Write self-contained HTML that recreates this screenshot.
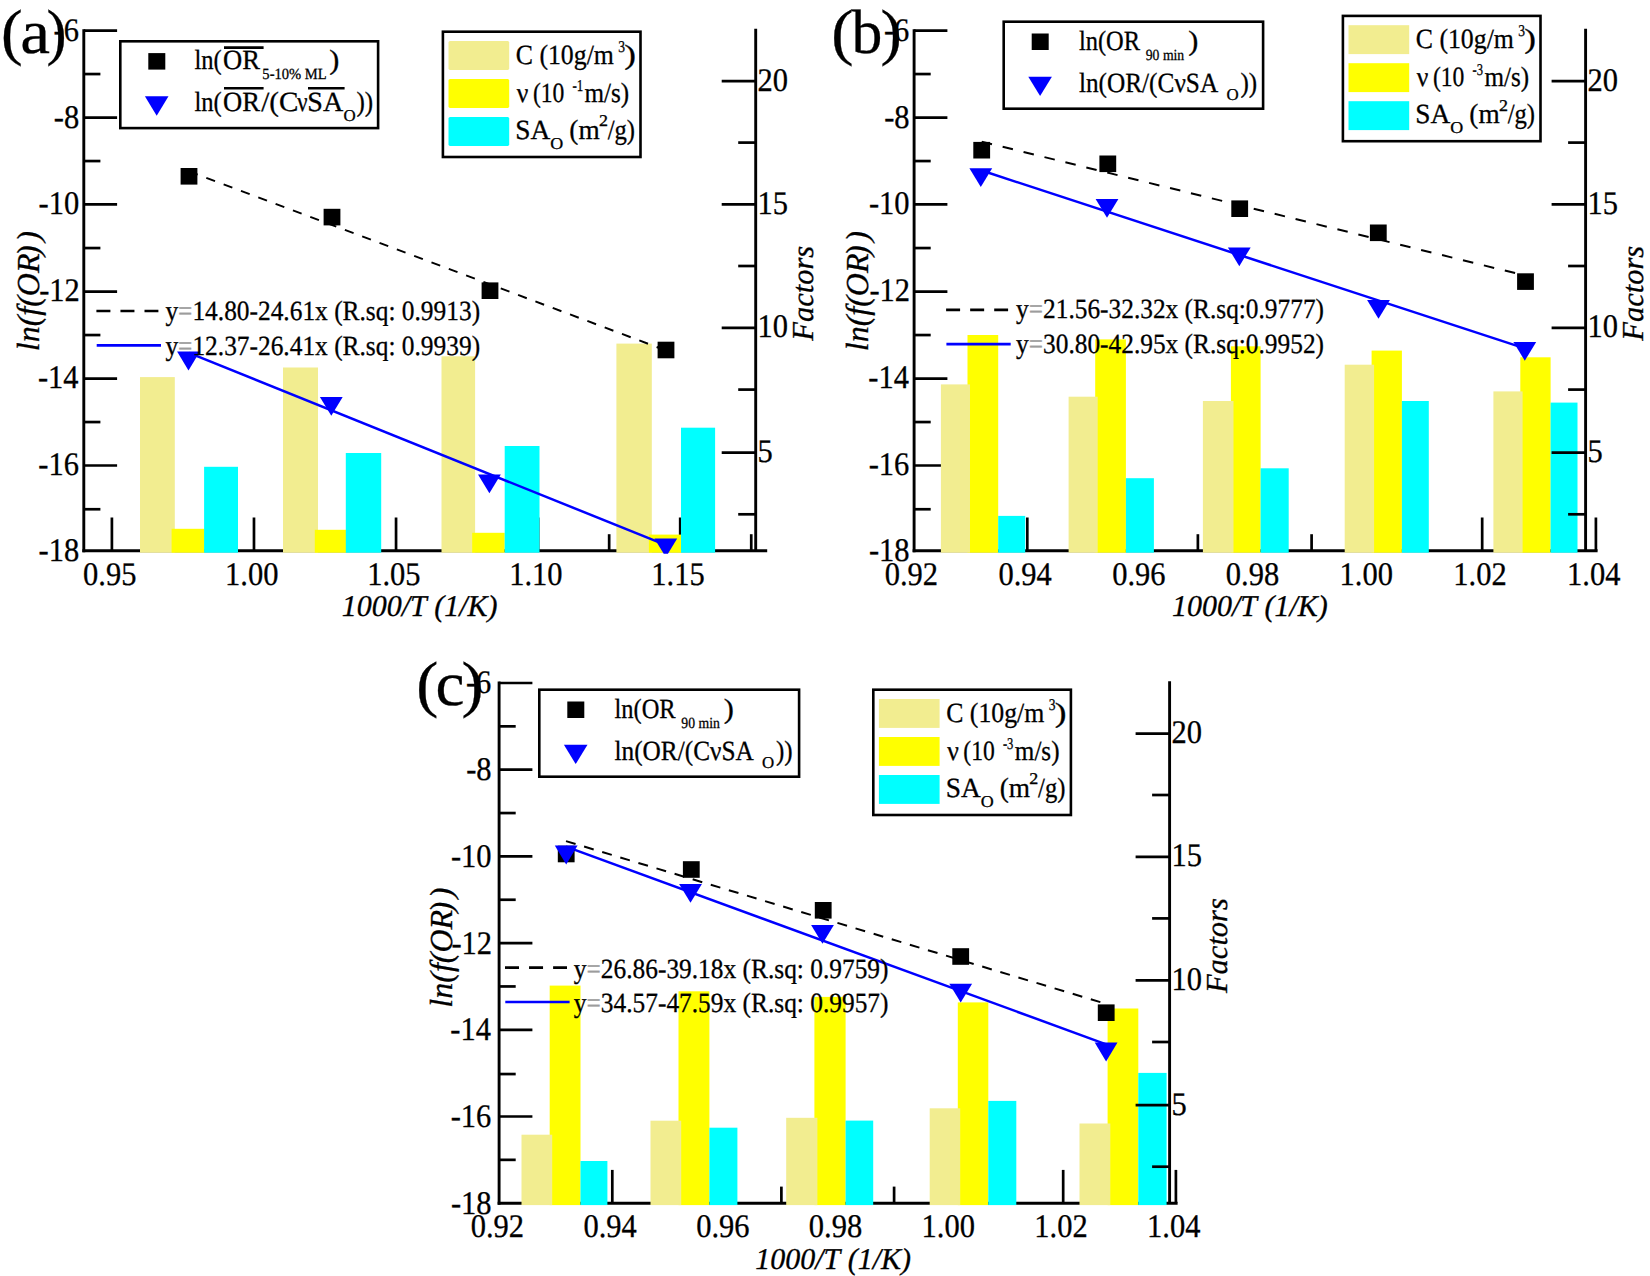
<!DOCTYPE html>
<html lang="en">
<head>
<meta charset="utf-8">
<title>Arrhenius plots</title>
<style>
html,body{margin:0;padding:0;background:#fff;}
body{width:1650px;height:1276px;overflow:hidden;font-family:"Liberation Serif", "Times New Roman", serif;}
svg{display:block;}
text{font-kerning:none;white-space:pre;stroke-width:0.3px;}
</style>
</head>
<body>
<svg width="1650" height="1276" viewBox="0 0 1650 1276" font-family="'Liberation Serif', 'Times New Roman', serif" text-rendering="geometricPrecision">
<rect width="1650" height="1276" fill="#fff"/>
<g>
<line x1="83.8" y1="29.15" x2="83.8" y2="552.25" stroke="#000" stroke-width="2.9"/>
<line x1="82.35" y1="550.8" x2="767.2" y2="550.8" stroke="#000" stroke-width="2.9"/>
<line x1="755.7" y1="28.8" x2="755.7" y2="550.8" stroke="#000" stroke-width="2.9"/>
<line x1="83.8" y1="509.25" x2="100.4" y2="509.25" stroke="#000" stroke-width="2.7"/>
<line x1="83.8" y1="465.5" x2="117.1" y2="465.5" stroke="#000" stroke-width="2.7"/>
<line x1="83.8" y1="422.05" x2="100.4" y2="422.05" stroke="#000" stroke-width="2.7"/>
<line x1="83.8" y1="378.6" x2="117.1" y2="378.6" stroke="#000" stroke-width="2.7"/>
<line x1="83.8" y1="335.05" x2="100.4" y2="335.05" stroke="#000" stroke-width="2.7"/>
<line x1="83.8" y1="291.6" x2="117.1" y2="291.6" stroke="#000" stroke-width="2.7"/>
<line x1="83.8" y1="248.05" x2="100.4" y2="248.05" stroke="#000" stroke-width="2.7"/>
<line x1="83.8" y1="204.45" x2="117.1" y2="204.45" stroke="#000" stroke-width="2.7"/>
<line x1="83.8" y1="161.05" x2="100.4" y2="161.05" stroke="#000" stroke-width="2.7"/>
<line x1="83.8" y1="117.6" x2="117.1" y2="117.6" stroke="#000" stroke-width="2.7"/>
<line x1="83.8" y1="74.05" x2="100.4" y2="74.05" stroke="#000" stroke-width="2.7"/>
<line x1="83.8" y1="30.6" x2="117.1" y2="30.6" stroke="#000" stroke-width="2.7"/>
<line x1="111.9" y1="517.5" x2="111.9" y2="550.8" stroke="#000" stroke-width="2.7"/>
<line x1="253.98" y1="517.5" x2="253.98" y2="550.8" stroke="#000" stroke-width="2.7"/>
<line x1="396.05" y1="517.5" x2="396.05" y2="550.8" stroke="#000" stroke-width="2.7"/>
<line x1="538.13" y1="517.5" x2="538.13" y2="550.8" stroke="#000" stroke-width="2.7"/>
<line x1="680.2" y1="517.5" x2="680.2" y2="550.8" stroke="#000" stroke-width="2.7"/>
<line x1="182.94" y1="534.2" x2="182.94" y2="550.8" stroke="#000" stroke-width="2.7"/>
<line x1="325.01" y1="534.2" x2="325.01" y2="550.8" stroke="#000" stroke-width="2.7"/>
<line x1="467.09" y1="534.2" x2="467.09" y2="550.8" stroke="#000" stroke-width="2.7"/>
<line x1="609.16" y1="534.2" x2="609.16" y2="550.8" stroke="#000" stroke-width="2.7"/>
<line x1="751.24" y1="534.2" x2="751.24" y2="550.8" stroke="#000" stroke-width="2.7"/>
<rect x="140" y="377.1" width="34.8" height="175.6" fill="#f2ed90"/>
<rect x="171.6" y="528.8" width="33.1" height="23.9" fill="#ffff00"/>
<rect x="204.1" y="466.8" width="33.9" height="85.9" fill="#00ffff"/>
<rect x="283" y="367.5" width="35" height="185.2" fill="#f2ed90"/>
<rect x="314.8" y="529.8" width="31.4" height="22.9" fill="#ffff00"/>
<rect x="345.8" y="453" width="35.4" height="99.7" fill="#00ffff"/>
<rect x="441.5" y="356.3" width="33.6" height="196.4" fill="#f2ed90"/>
<rect x="472.2" y="532.8" width="32.5" height="19.9" fill="#ffff00"/>
<rect x="504.7" y="446" width="34.8" height="106.7" fill="#00ffff"/>
<rect x="616.4" y="343.6" width="35.4" height="209.1" fill="#f2ed90"/>
<rect x="648.9" y="534.6" width="32.5" height="18.1" fill="#ffff00"/>
<rect x="681" y="427.7" width="34.1" height="125" fill="#00ffff"/>
<line x1="721.7" y1="81.2" x2="755.7" y2="81.2" stroke="#000" stroke-width="2.7"/>
<line x1="721.7" y1="204.4" x2="755.7" y2="204.4" stroke="#000" stroke-width="2.7"/>
<line x1="721.7" y1="327.9" x2="755.7" y2="327.9" stroke="#000" stroke-width="2.7"/>
<line x1="721.7" y1="452.7" x2="755.7" y2="452.7" stroke="#000" stroke-width="2.7"/>
<line x1="738.2" y1="142.6" x2="755.7" y2="142.6" stroke="#000" stroke-width="2.7"/>
<line x1="738.2" y1="266" x2="755.7" y2="266" stroke="#000" stroke-width="2.7"/>
<line x1="738.2" y1="389.6" x2="755.7" y2="389.6" stroke="#000" stroke-width="2.7"/>
<line x1="738.2" y1="514.3" x2="755.7" y2="514.3" stroke="#000" stroke-width="2.7"/>
<line x1="189" y1="171.37" x2="666" y2="350.46" stroke="#000" stroke-width="2" stroke-dasharray="9.3 9.2"/>
<line x1="189" y1="352.95" x2="666" y2="545.14" stroke="#0000ff" stroke-width="2.5"/>
<rect x="180.6" y="168" width="16.8" height="16.6" fill="#000"/>
<rect x="323.6" y="208.8" width="16.8" height="16.6" fill="#000"/>
<rect x="481.6" y="282.4" width="16.8" height="16.6" fill="#000"/>
<rect x="657.6" y="341.7" width="16.8" height="16.6" fill="#000"/>
<polygon points="177.1,351.6 199.9,351.6 188.5,370.4" fill="#0000ff"/>
<polygon points="319.9,397 342.7,397 331.3,415.8" fill="#0000ff"/>
<polygon points="478,474.5 500.8,474.5 489.4,493.3" fill="#0000ff"/>
<polygon points="654.4,538.4 677.2,538.4 667.92,553.7 663.68,553.7" fill="#0000ff"/>
<text transform="translate(38.62 561.2) scale(0.9240 1)" font-size="33" fill="#000" stroke="#000">-18</text>
<text transform="translate(38.36 474.5) scale(0.9240 1)" font-size="33" fill="#000" stroke="#000">-16</text>
<text transform="translate(37.93 387.8) scale(0.9240 1)" font-size="33" fill="#000" stroke="#000">-14</text>
<text transform="translate(39.14 301.1) scale(0.9240 1)" font-size="33" fill="#000" stroke="#000">-12</text>
<text transform="translate(38.62 214.4) scale(0.9240 1)" font-size="33" fill="#000" stroke="#000">-10</text>
<text transform="translate(53.86 127.7) scale(0.9240 1)" font-size="33" fill="#000" stroke="#000">-8</text>
<text transform="translate(53.61 41) scale(0.9240 1)" font-size="33" fill="#000" stroke="#000">-6</text>
<text transform="translate(757.6 90.6) scale(0.9240 1)" font-size="33" fill="#000" stroke="#000">20</text>
<text transform="translate(757.6 213.8) scale(0.9240 1)" font-size="33" fill="#000" stroke="#000">15</text>
<text transform="translate(757.6 337.3) scale(0.9240 1)" font-size="33" fill="#000" stroke="#000">10</text>
<text transform="translate(757.6 462.1) scale(0.9240 1)" font-size="33" fill="#000" stroke="#000">5</text>
<text transform="translate(83.02 584.8) scale(0.9240 1)" font-size="33" fill="#000" stroke="#000">0.95</text>
<text transform="translate(225.09 584.8) scale(0.9240 1)" font-size="33" fill="#000" stroke="#000">1.00</text>
<text transform="translate(367.17 584.8) scale(0.9240 1)" font-size="33" fill="#000" stroke="#000">1.05</text>
<text transform="translate(509.24 584.8) scale(0.9240 1)" font-size="33" fill="#000" stroke="#000">1.10</text>
<text transform="translate(651.32 584.8) scale(0.9240 1)" font-size="33" fill="#000" stroke="#000">1.15</text>
<text transform="translate(341.63 616.3) scale(0.9943 1)" font-size="30.2" font-style="italic" fill="#000" stroke="#000">1000/T (1/K)</text>
<text transform="translate(39.3 291.2) rotate(-90)" font-size="32" font-style="italic" text-anchor="middle" stroke="#000">ln(f(OR<tspan dx="-2.5">)</tspan><tspan dx="3.5">)</tspan></text>
<text transform="translate(813 293.2) rotate(-90)" font-size="30.5" font-style="italic" text-anchor="middle" stroke="#000">Factors</text>
<text transform="translate(0.94 52.63) scale(1.0387 1)" font-size="62.6" fill="#000" stroke="#000">(</text>
<text transform="translate(20.14 52.63) scale(1.0717 1)" font-size="62.6" fill="#000" stroke="#000">a</text>
<text transform="translate(46.56 52.63) scale(0.9641 1)" font-size="62.6" fill="#000" stroke="#000">)</text>
<rect x="120.3" y="41.3" width="257.8" height="86.8" fill="#fff" stroke="#000" stroke-width="2.6"/>
<rect x="148.3" y="53.1" width="17" height="16.5" fill="#000"/>
<polygon points="144.9,96.3 168.5,96.3 156.7,115.7" fill="#0000ff"/>
<text transform="translate(194.51 69.1) scale(0.8835 1)" font-size="27.8" fill="#000" stroke="#000">ln(</text>
<text transform="translate(223.11 69.1) scale(0.9563 1)" font-size="27.8" fill="#000" stroke="#000">OR</text>
<text transform="translate(194.51 111) scale(0.8835 1)" font-size="27.8" fill="#000" stroke="#000">ln(</text>
<text transform="translate(223.11 111) scale(0.9563 1)" font-size="27.8" fill="#000" stroke="#000">OR</text>
<text transform="translate(262.35 79.1) scale(0.9397 1)" font-size="15.5" fill="#000" stroke="#000">5-10% ML</text>
<text transform="translate(329.22 69.1) scale(1.0924 1)" font-size="27.8" fill="#000" stroke="#000">)</text>
<text transform="translate(261.2 111) scale(1.0474 1)" font-size="27.8" fill="#000" stroke="#000">/(C</text>
<text transform="translate(297.24 111) scale(0.8185 1)" font-size="27.8" fill="#000" stroke="#000">ν</text>
<text transform="translate(307.32 111) scale(1.0097 1)" font-size="27.8" fill="#000" stroke="#000">SA</text>
<text transform="translate(343.51 121) scale(1.0225 1)" font-size="16.5" fill="#000" stroke="#000">O</text>
<text transform="translate(356.39 111) scale(0.9026 1)" font-size="27.8" fill="#000" stroke="#000">))</text>
<line x1="224" y1="47.6" x2="263.6" y2="47.6" stroke="#000" stroke-width="2.6"/>
<line x1="224" y1="88.3" x2="263.6" y2="88.3" stroke="#000" stroke-width="2.6"/>
<line x1="308" y1="88.3" x2="344.6" y2="88.3" stroke="#000" stroke-width="2.6"/>
<rect x="442.9" y="31.7" width="197.6" height="125.3" fill="#fff" stroke="#000" stroke-width="2.6"/>
<rect x="448.5" y="41" width="60.7" height="28.9" fill="#f2ed90" rx="1.6"/>
<rect x="448.5" y="79" width="60.7" height="28.9" fill="#ffff00" rx="1.6"/>
<rect x="448.5" y="117" width="60.7" height="28.9" fill="#00ffff" rx="1.6"/>
<text transform="translate(515.74 64.2) scale(0.9278 1)" font-size="27.8" fill="#000" stroke="#000">C (10g/m</text>
<text transform="translate(618.35 52) scale(0.8216 1)" font-size="16.5" fill="#000" stroke="#000">3</text>
<text transform="translate(624.37 64.2) scale(1.2605 1)" font-size="27.8" fill="#000" stroke="#000">)</text>
<text transform="translate(516.74 101.8) scale(0.9250 1)" font-size="27.8" fill="#000" stroke="#000">ν</text>
<text transform="translate(532.96 101.8) scale(0.8483 1)" font-size="27.8" fill="#000" stroke="#000">(10</text>
<text transform="translate(572.52 90.6) scale(0.7824 1)" font-size="16.5" fill="#000" stroke="#000">-1</text>
<text transform="translate(584.47 101.8) scale(0.9030 1)" font-size="27.8" fill="#000" stroke="#000">m/s)</text>
<text transform="translate(515.37 139.1) scale(0.9858 1)" font-size="27.8" fill="#000" stroke="#000">SA</text>
<text transform="translate(550.26 148.6) scale(1.0888 1)" font-size="16.5" fill="#000" stroke="#000">O</text>
<text transform="translate(569.3 139.1) scale(0.9820 1)" font-size="27.8" fill="#000" stroke="#000">(m</text>
<text transform="translate(598.91 126.3) scale(1.0885 1)" font-size="16.5" fill="#000" stroke="#000">2</text>
<text transform="translate(607.7 139.1) scale(0.8867 1)" font-size="27.8" fill="#000" stroke="#000">/g)</text>
<line x1="96.4" y1="311" x2="158.4" y2="311" stroke="#000" stroke-width="2.7" stroke-dasharray="14 10.05"/>
<line x1="96.7" y1="345.4" x2="161" y2="345.4" stroke="#0000ff" stroke-width="2.7"/>
<text transform="translate(165.39 320.2) scale(0.9132 1)" font-size="27.8" fill="#000" stroke="#000">y<tspan fill="#9c9c9c" stroke="#9c9c9c">=</tspan>14.80-24.61x (R.sq: 0.9913)</text>
<text transform="translate(165.39 354.7) scale(0.9132 1)" font-size="27.8" fill="#000" stroke="#000">y<tspan fill="#9c9c9c" stroke="#9c9c9c">=</tspan>12.37-26.41x (R.sq: 0.9939)</text>
</g>
<g>
<line x1="914.1" y1="29.15" x2="914.1" y2="552.25" stroke="#000" stroke-width="2.9"/>
<line x1="912.65" y1="550.8" x2="1597.6" y2="550.8" stroke="#000" stroke-width="2.9"/>
<line x1="1585.6" y1="28.8" x2="1585.6" y2="550.8" stroke="#000" stroke-width="2.9"/>
<line x1="914.1" y1="509.25" x2="930.7" y2="509.25" stroke="#000" stroke-width="2.7"/>
<line x1="914.1" y1="465.5" x2="947.4" y2="465.5" stroke="#000" stroke-width="2.7"/>
<line x1="914.1" y1="422.05" x2="930.7" y2="422.05" stroke="#000" stroke-width="2.7"/>
<line x1="914.1" y1="378.6" x2="947.4" y2="378.6" stroke="#000" stroke-width="2.7"/>
<line x1="914.1" y1="335.05" x2="930.7" y2="335.05" stroke="#000" stroke-width="2.7"/>
<line x1="914.1" y1="291.6" x2="947.4" y2="291.6" stroke="#000" stroke-width="2.7"/>
<line x1="914.1" y1="248.05" x2="930.7" y2="248.05" stroke="#000" stroke-width="2.7"/>
<line x1="914.1" y1="204.45" x2="947.4" y2="204.45" stroke="#000" stroke-width="2.7"/>
<line x1="914.1" y1="161.05" x2="930.7" y2="161.05" stroke="#000" stroke-width="2.7"/>
<line x1="914.1" y1="117.6" x2="947.4" y2="117.6" stroke="#000" stroke-width="2.7"/>
<line x1="914.1" y1="74.05" x2="930.7" y2="74.05" stroke="#000" stroke-width="2.7"/>
<line x1="914.1" y1="30.6" x2="947.4" y2="30.6" stroke="#000" stroke-width="2.7"/>
<line x1="1027.3" y1="517.5" x2="1027.3" y2="550.8" stroke="#000" stroke-width="2.7"/>
<line x1="1141.02" y1="517.5" x2="1141.02" y2="550.8" stroke="#000" stroke-width="2.7"/>
<line x1="1254.74" y1="517.5" x2="1254.74" y2="550.8" stroke="#000" stroke-width="2.7"/>
<line x1="1368.46" y1="517.5" x2="1368.46" y2="550.8" stroke="#000" stroke-width="2.7"/>
<line x1="1482.18" y1="517.5" x2="1482.18" y2="550.8" stroke="#000" stroke-width="2.7"/>
<line x1="1595.9" y1="517.5" x2="1595.9" y2="550.8" stroke="#000" stroke-width="2.7"/>
<line x1="970.44" y1="534.2" x2="970.44" y2="550.8" stroke="#000" stroke-width="2.7"/>
<line x1="1084.16" y1="534.2" x2="1084.16" y2="550.8" stroke="#000" stroke-width="2.7"/>
<line x1="1197.88" y1="534.2" x2="1197.88" y2="550.8" stroke="#000" stroke-width="2.7"/>
<line x1="1311.6" y1="534.2" x2="1311.6" y2="550.8" stroke="#000" stroke-width="2.7"/>
<line x1="1425.32" y1="534.2" x2="1425.32" y2="550.8" stroke="#000" stroke-width="2.7"/>
<line x1="1539.04" y1="534.2" x2="1539.04" y2="550.8" stroke="#000" stroke-width="2.7"/>
<rect x="967.5" y="335" width="30.7" height="217.7" fill="#ffff00"/>
<rect x="940.9" y="384.4" width="29.1" height="168.3" fill="#f2ed90"/>
<rect x="998.2" y="515.9" width="27" height="36.8" fill="#00ffff"/>
<rect x="1095.2" y="339.4" width="30.7" height="213.3" fill="#ffff00"/>
<rect x="1068.6" y="396.7" width="29.1" height="156" fill="#f2ed90"/>
<rect x="1125.9" y="478.2" width="28" height="74.5" fill="#00ffff"/>
<rect x="1230.9" y="346.3" width="29.7" height="206.4" fill="#ffff00"/>
<rect x="1202.9" y="401" width="30.6" height="151.7" fill="#f2ed90"/>
<rect x="1260.6" y="468.3" width="28.1" height="84.4" fill="#00ffff"/>
<rect x="1371.6" y="350.6" width="30.3" height="202.1" fill="#ffff00"/>
<rect x="1344.7" y="364.7" width="29.4" height="188" fill="#f2ed90"/>
<rect x="1401.9" y="401" width="26.9" height="151.7" fill="#00ffff"/>
<rect x="1520.3" y="357.3" width="30.3" height="195.4" fill="#ffff00"/>
<rect x="1493.4" y="391.4" width="29.2" height="161.3" fill="#f2ed90"/>
<rect x="1550.6" y="402.6" width="26.9" height="150.1" fill="#00ffff"/>
<line x1="1551.6" y1="81.2" x2="1585.6" y2="81.2" stroke="#000" stroke-width="2.7"/>
<line x1="1551.6" y1="204.4" x2="1585.6" y2="204.4" stroke="#000" stroke-width="2.7"/>
<line x1="1551.6" y1="327.9" x2="1585.6" y2="327.9" stroke="#000" stroke-width="2.7"/>
<line x1="1551.6" y1="452.7" x2="1585.6" y2="452.7" stroke="#000" stroke-width="2.7"/>
<line x1="1568.1" y1="142.6" x2="1585.6" y2="142.6" stroke="#000" stroke-width="2.7"/>
<line x1="1568.1" y1="266" x2="1585.6" y2="266" stroke="#000" stroke-width="2.7"/>
<line x1="1568.1" y1="389.6" x2="1585.6" y2="389.6" stroke="#000" stroke-width="2.7"/>
<line x1="1568.1" y1="514.3" x2="1585.6" y2="514.3" stroke="#000" stroke-width="2.7"/>
<line x1="981.7" y1="141.65" x2="1524.8" y2="275.47" stroke="#000" stroke-width="2" stroke-dasharray="10.6 10.95"/>
<line x1="981.7" y1="170.56" x2="1524.8" y2="348.4" stroke="#0000ff" stroke-width="2.5"/>
<rect x="973.3" y="141.9" width="16.8" height="16.6" fill="#000"/>
<rect x="1099.4" y="155.5" width="16.8" height="16.6" fill="#000"/>
<rect x="1231.3" y="200.4" width="16.8" height="16.6" fill="#000"/>
<rect x="1369.9" y="224.5" width="16.8" height="16.6" fill="#000"/>
<rect x="1517.1" y="273.3" width="16.8" height="16.6" fill="#000"/>
<polygon points="969.4,168.3 992.2,168.3 980.8,187.1" fill="#0000ff"/>
<polygon points="1095.6,199 1118.4,199 1107,217.8" fill="#0000ff"/>
<polygon points="1227.9,247.4 1250.7,247.4 1239.3,266.2" fill="#0000ff"/>
<polygon points="1367.1,300 1389.9,300 1378.5,318.8" fill="#0000ff"/>
<polygon points="1513.4,342 1536.2,342 1524.8,360.8" fill="#0000ff"/>
<text transform="translate(868.92 561.2) scale(0.9240 1)" font-size="33" fill="#000" stroke="#000">-18</text>
<text transform="translate(868.66 474.5) scale(0.9240 1)" font-size="33" fill="#000" stroke="#000">-16</text>
<text transform="translate(868.23 387.8) scale(0.9240 1)" font-size="33" fill="#000" stroke="#000">-14</text>
<text transform="translate(869.44 301.1) scale(0.9240 1)" font-size="33" fill="#000" stroke="#000">-12</text>
<text transform="translate(868.92 214.4) scale(0.9240 1)" font-size="33" fill="#000" stroke="#000">-10</text>
<text transform="translate(884.16 127.7) scale(0.9240 1)" font-size="33" fill="#000" stroke="#000">-8</text>
<text transform="translate(883.91 41) scale(0.9240 1)" font-size="33" fill="#000" stroke="#000">-6</text>
<text transform="translate(1587.5 90.6) scale(0.9240 1)" font-size="33" fill="#000" stroke="#000">20</text>
<text transform="translate(1587.5 213.8) scale(0.9240 1)" font-size="33" fill="#000" stroke="#000">15</text>
<text transform="translate(1587.5 337.3) scale(0.9240 1)" font-size="33" fill="#000" stroke="#000">10</text>
<text transform="translate(1587.5 462.1) scale(0.9240 1)" font-size="33" fill="#000" stroke="#000">5</text>
<text transform="translate(884.7 584.8) scale(0.9240 1)" font-size="33" fill="#000" stroke="#000">0.92</text>
<text transform="translate(998.42 584.8) scale(0.9240 1)" font-size="33" fill="#000" stroke="#000">0.94</text>
<text transform="translate(1112.14 584.8) scale(0.9240 1)" font-size="33" fill="#000" stroke="#000">0.96</text>
<text transform="translate(1225.86 584.8) scale(0.9240 1)" font-size="33" fill="#000" stroke="#000">0.98</text>
<text transform="translate(1339.58 584.8) scale(0.9240 1)" font-size="33" fill="#000" stroke="#000">1.00</text>
<text transform="translate(1453.3 584.8) scale(0.9240 1)" font-size="33" fill="#000" stroke="#000">1.02</text>
<text transform="translate(1567.02 584.8) scale(0.9240 1)" font-size="33" fill="#000" stroke="#000">1.04</text>
<text transform="translate(1171.93 616.3) scale(0.9943 1)" font-size="30.2" font-style="italic" fill="#000" stroke="#000">1000/T (1/K)</text>
<text transform="translate(867.6 291.2) rotate(-90)" font-size="32" font-style="italic" text-anchor="middle" stroke="#000">ln(f(OR<tspan dx="-2.5">)</tspan><tspan dx="3.5">)</tspan></text>
<text transform="translate(1642.9 293.2) rotate(-90)" font-size="30.5" font-style="italic" text-anchor="middle" stroke="#000">Factors</text>
<text transform="translate(831.16 52.63) scale(1.0698 1)" font-size="62.6" fill="#000" stroke="#000">(</text>
<text transform="translate(851.6 52.63) scale(0.9856 1)" font-size="62.6" fill="#000" stroke="#000">b</text>
<text transform="translate(880.53 52.63) scale(1.0263 1)" font-size="62.6" fill="#000" stroke="#000">)</text>
<rect x="1003.7" y="21.7" width="259.4" height="87" fill="#fff" stroke="#000" stroke-width="2.6"/>
<rect x="1031.7" y="33.5" width="17" height="16.5" fill="#000"/>
<polygon points="1028.3,76.7 1051.9,76.7 1040.1,96.1" fill="#0000ff"/>
<text transform="translate(1078.91 50) scale(0.8795 1)" font-size="27.8" fill="#000" stroke="#000">ln(OR</text>
<text transform="translate(1145.76 59.6) scale(0.8841 1)" font-size="15.5" fill="#000" stroke="#000">90 min</text>
<text transform="translate(1188.22 50) scale(1.0924 1)" font-size="27.8" fill="#000" stroke="#000">)</text>
<text transform="translate(1078.89 91.9) scale(0.9096 1)" font-size="27.8" fill="#000" stroke="#000">ln(OR/(CνSA</text>
<text transform="translate(1226.51 100.1) scale(1.0225 1)" font-size="16.5" fill="#000" stroke="#000">O</text>
<text transform="translate(1240.39 91.9) scale(0.9026 1)" font-size="27.8" fill="#000" stroke="#000">))</text>
<rect x="1342.9" y="15.9" width="197.6" height="125.3" fill="#fff" stroke="#000" stroke-width="2.6"/>
<rect x="1348.5" y="25.2" width="60.7" height="28.9" fill="#f2ed90"/>
<rect x="1348.5" y="63.2" width="60.7" height="28.9" fill="#ffff00"/>
<rect x="1348.5" y="101.2" width="60.7" height="28.9" fill="#00ffff"/>
<text transform="translate(1415.74 48.4) scale(0.9278 1)" font-size="27.8" fill="#000" stroke="#000">C (10g/m</text>
<text transform="translate(1518.35 36.2) scale(0.8216 1)" font-size="16.5" fill="#000" stroke="#000">3</text>
<text transform="translate(1524.37 48.4) scale(1.2605 1)" font-size="27.8" fill="#000" stroke="#000">)</text>
<text transform="translate(1416.74 86) scale(0.9250 1)" font-size="27.8" fill="#000" stroke="#000">ν</text>
<text transform="translate(1432.96 86) scale(0.8483 1)" font-size="27.8" fill="#000" stroke="#000">(10</text>
<text transform="translate(1472.53 74.8) scale(0.7607 1)" font-size="16.5" fill="#000" stroke="#000">-3</text>
<text transform="translate(1484.47 86) scale(0.9030 1)" font-size="27.8" fill="#000" stroke="#000">m/s)</text>
<text transform="translate(1415.37 123.3) scale(0.9858 1)" font-size="27.8" fill="#000" stroke="#000">SA</text>
<text transform="translate(1450.26 132.8) scale(1.0888 1)" font-size="16.5" fill="#000" stroke="#000">O</text>
<text transform="translate(1469.3 123.3) scale(0.9820 1)" font-size="27.8" fill="#000" stroke="#000">(m</text>
<text transform="translate(1498.91 110.5) scale(1.0885 1)" font-size="16.5" fill="#000" stroke="#000">2</text>
<text transform="translate(1507.7 123.3) scale(0.8867 1)" font-size="27.8" fill="#000" stroke="#000">/g)</text>
<line x1="946.1" y1="309.8" x2="1008.1" y2="309.8" stroke="#000" stroke-width="2.7" stroke-dasharray="14 10.05"/>
<line x1="946.4" y1="344.2" x2="1010.7" y2="344.2" stroke="#0000ff" stroke-width="2.7"/>
<text transform="translate(1016.09 318.4) scale(0.9119 1)" font-size="27.8" fill="#000" stroke="#000">y<tspan fill="#9c9c9c" stroke="#9c9c9c">=</tspan>21.56-32.32x (R.sq:0.9777)</text>
<text transform="translate(1016.09 352.9) scale(0.9119 1)" font-size="27.8" fill="#000" stroke="#000">y<tspan fill="#9c9c9c" stroke="#9c9c9c">=</tspan>30.80-42.95x (R.sq:0.9952)</text>
</g>
<g>
<line x1="499.1" y1="681.55" x2="499.1" y2="1204.65" stroke="#000" stroke-width="2.9"/>
<line x1="497.65" y1="1203.2" x2="1177.6" y2="1203.2" stroke="#000" stroke-width="2.9"/>
<line x1="1169.6" y1="681.2" x2="1169.6" y2="1203.2" stroke="#000" stroke-width="2.9"/>
<line x1="499.1" y1="1159.85" x2="515.7" y2="1159.85" stroke="#000" stroke-width="2.7"/>
<line x1="499.1" y1="1116.5" x2="532.4" y2="1116.5" stroke="#000" stroke-width="2.7"/>
<line x1="499.1" y1="1074.05" x2="515.7" y2="1074.05" stroke="#000" stroke-width="2.7"/>
<line x1="499.1" y1="1029.8" x2="532.4" y2="1029.8" stroke="#000" stroke-width="2.7"/>
<line x1="499.1" y1="986.45" x2="515.7" y2="986.45" stroke="#000" stroke-width="2.7"/>
<line x1="499.1" y1="943.1" x2="532.4" y2="943.1" stroke="#000" stroke-width="2.7"/>
<line x1="499.1" y1="899.75" x2="515.7" y2="899.75" stroke="#000" stroke-width="2.7"/>
<line x1="499.1" y1="856.4" x2="532.4" y2="856.4" stroke="#000" stroke-width="2.7"/>
<line x1="499.1" y1="813.05" x2="515.7" y2="813.05" stroke="#000" stroke-width="2.7"/>
<line x1="499.1" y1="769.7" x2="532.4" y2="769.7" stroke="#000" stroke-width="2.7"/>
<line x1="499.1" y1="726.35" x2="515.7" y2="726.35" stroke="#000" stroke-width="2.7"/>
<line x1="499.1" y1="683" x2="532.4" y2="683" stroke="#000" stroke-width="2.7"/>
<line x1="612.3" y1="1169.9" x2="612.3" y2="1203.2" stroke="#000" stroke-width="2.7"/>
<line x1="725.02" y1="1169.9" x2="725.02" y2="1203.2" stroke="#000" stroke-width="2.7"/>
<line x1="837.74" y1="1169.9" x2="837.74" y2="1203.2" stroke="#000" stroke-width="2.7"/>
<line x1="950.46" y1="1169.9" x2="950.46" y2="1203.2" stroke="#000" stroke-width="2.7"/>
<line x1="1063.18" y1="1169.9" x2="1063.18" y2="1203.2" stroke="#000" stroke-width="2.7"/>
<line x1="1175.9" y1="1169.9" x2="1175.9" y2="1203.2" stroke="#000" stroke-width="2.7"/>
<line x1="555.94" y1="1186.6" x2="555.94" y2="1203.2" stroke="#000" stroke-width="2.7"/>
<line x1="668.66" y1="1186.6" x2="668.66" y2="1203.2" stroke="#000" stroke-width="2.7"/>
<line x1="781.38" y1="1186.6" x2="781.38" y2="1203.2" stroke="#000" stroke-width="2.7"/>
<line x1="894.1" y1="1186.6" x2="894.1" y2="1203.2" stroke="#000" stroke-width="2.7"/>
<line x1="1006.82" y1="1186.6" x2="1006.82" y2="1203.2" stroke="#000" stroke-width="2.7"/>
<line x1="1119.54" y1="1186.6" x2="1119.54" y2="1203.2" stroke="#000" stroke-width="2.7"/>
<rect x="549.7" y="985.6" width="30.8" height="219.5" fill="#ffff00"/>
<rect x="521.5" y="1134.7" width="30.7" height="70.4" fill="#f2ed90"/>
<rect x="580.5" y="1161" width="26.9" height="44.1" fill="#00ffff"/>
<rect x="678.5" y="991.3" width="30.9" height="213.8" fill="#ffff00"/>
<rect x="650.5" y="1120.7" width="30.7" height="84.4" fill="#f2ed90"/>
<rect x="709.4" y="1127.7" width="28" height="77.4" fill="#00ffff"/>
<rect x="814.4" y="996.9" width="31.2" height="208.2" fill="#ffff00"/>
<rect x="786.2" y="1117.8" width="31.2" height="87.3" fill="#f2ed90"/>
<rect x="845.6" y="1120.6" width="27.6" height="84.5" fill="#00ffff"/>
<rect x="957.8" y="1002.4" width="30.5" height="202.7" fill="#ffff00"/>
<rect x="929.7" y="1108.3" width="30.5" height="96.8" fill="#f2ed90"/>
<rect x="988.3" y="1100.9" width="28" height="104.2" fill="#00ffff"/>
<rect x="1107.6" y="1008.5" width="30.7" height="196.6" fill="#ffff00"/>
<rect x="1079.5" y="1123.5" width="30.8" height="81.6" fill="#f2ed90"/>
<rect x="1138.3" y="1072.9" width="28.3" height="132.2" fill="#00ffff"/>
<line x1="1135.6" y1="733.6" x2="1169.6" y2="733.6" stroke="#000" stroke-width="2.7"/>
<line x1="1135.6" y1="856.8" x2="1169.6" y2="856.8" stroke="#000" stroke-width="2.7"/>
<line x1="1135.6" y1="980.3" x2="1169.6" y2="980.3" stroke="#000" stroke-width="2.7"/>
<line x1="1135.6" y1="1105.1" x2="1169.6" y2="1105.1" stroke="#000" stroke-width="2.7"/>
<line x1="1152.1" y1="795" x2="1169.6" y2="795" stroke="#000" stroke-width="2.7"/>
<line x1="1152.1" y1="918.4" x2="1169.6" y2="918.4" stroke="#000" stroke-width="2.7"/>
<line x1="1152.1" y1="1042" x2="1169.6" y2="1042" stroke="#000" stroke-width="2.7"/>
<line x1="1152.1" y1="1166.7" x2="1169.6" y2="1166.7" stroke="#000" stroke-width="2.7"/>
<line x1="566" y1="841.11" x2="1106.2" y2="1003.91" stroke="#000" stroke-width="2" stroke-dasharray="10 8.9"/>
<line x1="566" y1="846.59" x2="1106.2" y2="1044.32" stroke="#0000ff" stroke-width="2.5"/>
<rect x="557.8" y="845.7" width="16.8" height="16.6" fill="#000"/>
<rect x="682.9" y="861.2" width="16.8" height="16.6" fill="#000"/>
<rect x="814.8" y="902" width="16.8" height="16.6" fill="#000"/>
<rect x="952.3" y="948.2" width="16.8" height="16.6" fill="#000"/>
<rect x="1097.8" y="1004.4" width="16.8" height="16.6" fill="#000"/>
<polygon points="554.8,845.6 577.6,845.6 566.2,864.4" fill="#0000ff"/>
<polygon points="679.1,884 701.9,884 690.5,902.8" fill="#0000ff"/>
<polygon points="811.1,925 833.9,925 822.5,943.8" fill="#0000ff"/>
<polygon points="949.3,983.8 972.1,983.8 960.7,1002.6" fill="#0000ff"/>
<polygon points="1094.7,1042.6 1117.5,1042.6 1106.1,1061.4" fill="#0000ff"/>
<text transform="translate(450.92 1213.6) scale(0.9240 1)" font-size="33" fill="#000" stroke="#000">-18</text>
<text transform="translate(450.66 1126.9) scale(0.9240 1)" font-size="33" fill="#000" stroke="#000">-16</text>
<text transform="translate(450.23 1040.2) scale(0.9240 1)" font-size="33" fill="#000" stroke="#000">-14</text>
<text transform="translate(451.44 953.5) scale(0.9240 1)" font-size="33" fill="#000" stroke="#000">-12</text>
<text transform="translate(450.92 866.8) scale(0.9240 1)" font-size="33" fill="#000" stroke="#000">-10</text>
<text transform="translate(466.16 780.1) scale(0.9240 1)" font-size="33" fill="#000" stroke="#000">-8</text>
<text transform="translate(465.91 693.4) scale(0.9240 1)" font-size="33" fill="#000" stroke="#000">-6</text>
<text transform="translate(1171.5 743) scale(0.9240 1)" font-size="33" fill="#000" stroke="#000">20</text>
<text transform="translate(1171.5 866.2) scale(0.9240 1)" font-size="33" fill="#000" stroke="#000">15</text>
<text transform="translate(1171.5 989.7) scale(0.9240 1)" font-size="33" fill="#000" stroke="#000">10</text>
<text transform="translate(1171.5 1114.5) scale(0.9240 1)" font-size="33" fill="#000" stroke="#000">5</text>
<text transform="translate(470.7 1237.2) scale(0.9240 1)" font-size="33" fill="#000" stroke="#000">0.92</text>
<text transform="translate(583.42 1237.2) scale(0.9240 1)" font-size="33" fill="#000" stroke="#000">0.94</text>
<text transform="translate(696.14 1237.2) scale(0.9240 1)" font-size="33" fill="#000" stroke="#000">0.96</text>
<text transform="translate(808.86 1237.2) scale(0.9240 1)" font-size="33" fill="#000" stroke="#000">0.98</text>
<text transform="translate(921.58 1237.2) scale(0.9240 1)" font-size="33" fill="#000" stroke="#000">1.00</text>
<text transform="translate(1034.3 1237.2) scale(0.9240 1)" font-size="33" fill="#000" stroke="#000">1.02</text>
<text transform="translate(1147.02 1237.2) scale(0.9240 1)" font-size="33" fill="#000" stroke="#000">1.04</text>
<text transform="translate(755.13 1268.7) scale(0.9943 1)" font-size="30.2" font-style="italic" fill="#000" stroke="#000">1000/T (1/K)</text>
<text transform="translate(451.6 947.6) rotate(-90)" font-size="32" font-style="italic" text-anchor="middle" stroke="#000">ln(f(OR<tspan dx="-2.5">)</tspan><tspan dx="3.5">)</tspan></text>
<text transform="translate(1226.9 945.6) rotate(-90)" font-size="30.5" font-style="italic" text-anchor="middle" stroke="#000">Factors</text>
<text transform="translate(416.19 705.03) scale(1.0574 1)" font-size="62.6" fill="#000" stroke="#000">(</text>
<text transform="translate(435.61 705.03) scale(1.0437 1)" font-size="62.6" fill="#000" stroke="#000">c</text>
<text transform="translate(461.47 705.03) scale(1.0574 1)" font-size="62.6" fill="#000" stroke="#000">)</text>
<rect x="539.3" y="689.7" width="259.8" height="87" fill="#fff" stroke="#000" stroke-width="2.6"/>
<rect x="567.3" y="701.5" width="17" height="16.5" fill="#000"/>
<polygon points="563.9,744.7 587.5,744.7 575.7,764.1" fill="#0000ff"/>
<text transform="translate(614.51 718) scale(0.8795 1)" font-size="27.8" fill="#000" stroke="#000">ln(OR</text>
<text transform="translate(681.36 727.6) scale(0.8841 1)" font-size="15.5" fill="#000" stroke="#000">90 min</text>
<text transform="translate(723.82 718) scale(1.0924 1)" font-size="27.8" fill="#000" stroke="#000">)</text>
<text transform="translate(614.49 759.9) scale(0.9096 1)" font-size="27.8" fill="#000" stroke="#000">ln(OR/(CνSA</text>
<text transform="translate(762.11 768.1) scale(1.0225 1)" font-size="16.5" fill="#000" stroke="#000">O</text>
<text transform="translate(775.99 759.9) scale(0.9026 1)" font-size="27.8" fill="#000" stroke="#000">))</text>
<rect x="873.3" y="689.7" width="197.6" height="125.3" fill="#fff" stroke="#000" stroke-width="2.6"/>
<rect x="878.9" y="699" width="60.7" height="28.9" fill="#f2ed90"/>
<rect x="878.9" y="737" width="60.7" height="28.9" fill="#ffff00"/>
<rect x="878.9" y="775" width="60.7" height="28.9" fill="#00ffff"/>
<text transform="translate(946.14 722.2) scale(0.9278 1)" font-size="27.8" fill="#000" stroke="#000">C (10g/m</text>
<text transform="translate(1048.75 710) scale(0.8216 1)" font-size="16.5" fill="#000" stroke="#000">3</text>
<text transform="translate(1054.77 722.2) scale(1.2605 1)" font-size="27.8" fill="#000" stroke="#000">)</text>
<text transform="translate(947.14 759.8) scale(0.9250 1)" font-size="27.8" fill="#000" stroke="#000">ν</text>
<text transform="translate(963.36 759.8) scale(0.8483 1)" font-size="27.8" fill="#000" stroke="#000">(10</text>
<text transform="translate(1002.93 748.6) scale(0.7607 1)" font-size="16.5" fill="#000" stroke="#000">-3</text>
<text transform="translate(1014.87 759.8) scale(0.9030 1)" font-size="27.8" fill="#000" stroke="#000">m/s)</text>
<text transform="translate(945.77 797.1) scale(0.9858 1)" font-size="27.8" fill="#000" stroke="#000">SA</text>
<text transform="translate(980.66 806.6) scale(1.0888 1)" font-size="16.5" fill="#000" stroke="#000">O</text>
<text transform="translate(999.7 797.1) scale(0.9820 1)" font-size="27.8" fill="#000" stroke="#000">(m</text>
<text transform="translate(1029.31 784.3) scale(1.0885 1)" font-size="16.5" fill="#000" stroke="#000">2</text>
<text transform="translate(1038.1 797.1) scale(0.8867 1)" font-size="27.8" fill="#000" stroke="#000">/g)</text>
<line x1="505" y1="967.6" x2="567" y2="967.6" stroke="#000" stroke-width="2.7" stroke-dasharray="14 10.05"/>
<line x1="505.3" y1="1002" x2="569.6" y2="1002" stroke="#0000ff" stroke-width="2.7"/>
<text transform="translate(573.79 977.5) scale(0.9132 1)" font-size="27.8" fill="#000" stroke="#000">y<tspan fill="#9c9c9c" stroke="#9c9c9c">=</tspan>26.86-39.18x (R.sq: 0.9759)</text>
<text transform="translate(573.79 1012) scale(0.9132 1)" font-size="27.8" fill="#000" stroke="#000">y<tspan fill="#9c9c9c" stroke="#9c9c9c">=</tspan>34.57-47.59x (R.sq: 0.9957)</text>
</g>
</svg>
</body>
</html>
